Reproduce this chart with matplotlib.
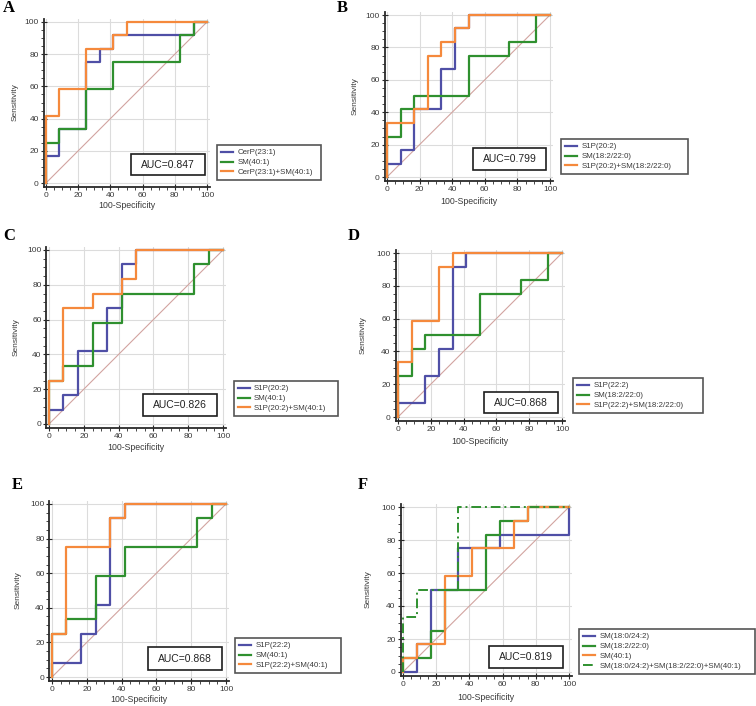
import matplotlib
matplotlib.use("Agg")
import matplotlib.pyplot as plt
from matplotlib.patches import Rectangle
from matplotlib.ticker import MultipleLocator

W, H = 756, 706

# ---- data: ROC step paths, 100-Specificity (x) vs Sensitivity (y), in % ----
cerp23_x = [0, 0, 8.3, 8.3, 25, 25, 33.3, 33.3, 41.7, 41.7, 91.7, 91.7, 100]
cerp23_y = [0, 16.7, 16.7, 33.3, 33.3, 75, 75, 83.3, 83.3, 91.7, 91.7, 100, 100]

sm40_x = [0, 0, 8.3, 8.3, 25, 25, 41.7, 41.7, 83.3, 83.3, 91.7, 91.7, 100]
sm40_y = [0, 25, 25, 33.3, 33.3, 58.3, 58.3, 75, 75, 91.7, 91.7, 100, 100]

sm18_22_x = [0, 0, 8.3, 8.3, 16.7, 16.7, 50, 50, 75, 75, 91.7, 91.7, 100]
sm18_22_y = [0, 25, 25, 41.7, 41.7, 50, 50, 75, 75, 83.3, 83.3, 100, 100]

s1p20_x = [0, 0, 8.3, 8.3, 16.7, 16.7, 33.3, 33.3, 41.7, 41.7, 50, 50, 100]
s1p20_y = [0, 8.3, 8.3, 16.7, 16.7, 41.7, 41.7, 66.7, 66.7, 91.7, 91.7, 100, 100]

s1p22_x = [0, 0, 16.7, 16.7, 25, 25, 33.3, 33.3, 41.7, 41.7, 100]
s1p22_y = [0, 8.3, 8.3, 25, 25, 41.7, 41.7, 91.7, 91.7, 100, 100]

comboA_x = [0, 0, 8.3, 8.3, 25, 25, 41.7, 41.7, 50, 50, 100]
comboA_y = [0, 41.7, 41.7, 58.3, 58.3, 83.3, 83.3, 91.7, 91.7, 100, 100]

comboB_x = [0, 0, 16.7, 16.7, 25, 25, 33.3, 33.3, 41.7, 41.7, 50, 50, 100]
comboB_y = [0, 33.3, 33.3, 41.7, 41.7, 75, 75, 83.3, 83.3, 91.7, 91.7, 100, 100]

comboC_x = [0, 0, 8.3, 8.3, 25, 25, 41.7, 41.7, 50, 50, 100]
comboC_y = [0, 25, 25, 66.7, 66.7, 75, 75, 83.3, 83.3, 100, 100]

comboD_x = [0, 0, 8.3, 8.3, 25, 25, 33.3, 33.3, 100]
comboD_y = [0, 33.3, 33.3, 58.3, 58.3, 91.7, 91.7, 100, 100]

comboE_x = [0, 0, 8.3, 8.3, 33.3, 33.3, 41.7, 41.7, 100]
comboE_y = [0, 25, 25, 75, 75, 91.7, 91.7, 100, 100]

# panel F
f_sm18_24_x = [0, 8.3, 8.3, 16.7, 16.7, 33.3, 33.3, 58.3, 58.3, 100, 100]
f_sm18_24_y = [0, 0, 16.7, 16.7, 50, 50, 75, 75, 83.3, 83.3, 100]
f_sm18_22_x = [0, 0, 16.7, 16.7, 25, 25, 50, 50, 58.3, 58.3, 75, 75, 100]
f_sm18_22_y = [0, 8.3, 8.3, 25, 25, 50, 50, 83.3, 83.3, 91.7, 91.7, 100, 100]
f_sm40_x = [0, 0, 8.3, 8.3, 25, 25, 41.7, 41.7, 66.7, 66.7, 75, 75, 100]
f_sm40_y = [0, 8.3, 8.3, 16.7, 16.7, 58.3, 58.3, 75, 75, 91.7, 91.7, 100, 100]
comboF_x = [0, 0, 8.3, 8.3, 33.3, 33.3, 100]
comboF_y = [0, 33.3, 33.3, 50, 50, 100, 100]

auc_values = ["0.847", "0.799", "0.826", "0.868", "0.868", "0.819"]
panel_letters = ["A", "B", "C", "D", "E", "F"]

BLUE = "#4f4fa6"
GREEN = "#2f902f"
ORANGE = "#f5893c"
DIAG = "#d2a4a0"
TXT = "#3a3a3a"

panels = [
    [(cerp23_x, cerp23_y, BLUE, "-", "CerP(23:1)"),
     (sm40_x, sm40_y, GREEN, "-", "SM(40:1)"),
     (comboA_x, comboA_y, ORANGE, "-", "CerP(23:1)+SM(40:1)")],
    [(s1p20_x, s1p20_y, BLUE, "-", "S1P(20:2)"),
     (sm18_22_x, sm18_22_y, GREEN, "-", "SM(18:2/22:0)"),
     (comboB_x, comboB_y, ORANGE, "-", "S1P(20:2)+SM(18:2/22:0)")],
    [(s1p20_x, s1p20_y, BLUE, "-", "S1P(20:2)"),
     (sm40_x, sm40_y, GREEN, "-", "SM(40:1)"),
     (comboC_x, comboC_y, ORANGE, "-", "S1P(20:2)+SM(40:1)")],
    [(s1p22_x, s1p22_y, BLUE, "-", "S1P(22:2)"),
     (sm18_22_x, sm18_22_y, GREEN, "-", "SM(18:2/22:0)"),
     (comboD_x, comboD_y, ORANGE, "-", "S1P(22:2)+SM(18:2/22:0)")],
    [(s1p22_x, s1p22_y, BLUE, "-", "S1P(22:2)"),
     (sm40_x, sm40_y, GREEN, "-", "SM(40:1)"),
     (comboE_x, comboE_y, ORANGE, "-", "S1P(22:2)+SM(40:1)")],
    [(f_sm18_24_x, f_sm18_24_y, BLUE, "-", "SM(18:0/24:2)"),
     (f_sm18_22_x, f_sm18_22_y, GREEN, "-", "SM(18:2/22:0)"),
     (f_sm40_x, f_sm40_y, ORANGE, "-", "SM(40:1)"),
     (comboF_x, comboF_y, GREEN, "-.", "SM(18:0/24:2)+SM(18:2/22:0)+SM(40:1)")],
]

# ---- layout in pixels ----
# axis: x of 0, x of 100, y of 100, y of 0
axes_px = [(46, 207, 22, 183), (387, 550, 15, 177),
           (49, 223, 250, 424), (398, 562, 253, 417),
           (52, 226, 504, 677), (403, 569, 507, 672)]
# legend box: left, top, right
legend_px = [(217, 146, 321), (561, 140, 688),
             (234, 382, 338), (573, 379, 703),
             (235, 639, 341), (579, 630, 755)]
# AUC box: left, top, right, bottom
auc_px = [(131, 154, 205, 175), (473, 148, 546, 170),
          (143, 394, 217, 416), (484, 392, 558, 413),
          (148, 647, 222, 670), (489, 646, 563, 668)]
letter_px = [(3, 8), (337, 8), (3, 236), (348, 236), (12, 485), (358, 485)]
ylabel_x = [15, 355, 16, 363, 18, 368]
xlabel_y = [205, 201, 447, 442, 700, 698]

XMIN, XMAX, YMIN, YMAX = -1.5, 102, -2.5, 102

plt.rcParams['font.family'] = ['Liberation Sans', 'DejaVu Sans']

fig = plt.figure(figsize=(W / 100, H / 100), dpi=100)


def fx(px):
    return px / W


def fy(py):
    return 1 - py / H


for i, curves in enumerate(panels):
    x0, x100, y100, y0 = axes_px[i]
    sx = (x100 - x0) / 100.0
    sy = (y0 - y100) / 100.0
    left = x0 + XMIN * sx
    right = x0 + XMAX * sx
    top = y0 - YMAX * sy
    bottom = y0 - YMIN * sy
    ax = fig.add_axes([fx(left), fy(bottom), (right - left) / W, (bottom - top) / H])
    ax.set_xlim(XMIN, XMAX)
    ax.set_ylim(YMIN, YMAX)

    ax.plot([0, 100], [0, 100], color=DIAG, lw=0.8, zorder=2)
    for xs, ys, col, ls, lab in curves:
        if ls == "-.":
            ax.plot(xs, ys, color=col, lw=1.4, dashes=(5, 2, 1, 2), label=lab, zorder=3)
        else:
            ax.plot(xs, ys, color=col, lw=1.6, label=lab, zorder=3)

    ax.xaxis.set_major_locator(MultipleLocator(20))
    ax.yaxis.set_major_locator(MultipleLocator(20))
    ax.xaxis.set_minor_locator(MultipleLocator(5))
    ax.yaxis.set_minor_locator(MultipleLocator(5))
    ax.grid(True, which="major", color="#dcdcdc", lw=0.8, zorder=0)
    ax.set_axisbelow(True)
    for s in ["top", "right"]:
        ax.spines[s].set_visible(False)
    for s in ["left", "bottom"]:
        ax.spines[s].set_color("#2a2a2a")
        ax.spines[s].set_linewidth(1.3)
    ax.tick_params(which="major", direction="inout", length=4, width=0.8,
                   color="#2a2a2a", labelsize=6, labelcolor=TXT, pad=1.5)
    ax.tick_params(which="minor", direction="out", length=2, width=0.6, color="#2a2a2a")

    # axis titles
    fig.text(fx(ylabel_x[i]), fy((y0 + y100) / 2), "Sensitivity", rotation=90,
             ha="center", va="center", fontsize=6, color=TXT)
    fig.text(fx((x0 + x100) / 2), fy(xlabel_y[i]), "100-Specificity",
             ha="center", va="center", fontsize=6.3, color=TXT)

    # legend
    lx0, ly0, lx1 = legend_px[i]
    leg = fig.legend(handles=ax.get_lines()[1:], loc="upper left",
                     bbox_to_anchor=(fx(lx0), fy(ly0), (lx1 - lx0) / W, 0.001),
                     mode="expand", borderaxespad=0, fontsize=5.7, frameon=True,
                     fancybox=False, edgecolor="#2a2a2a", handlelength=1.6,
                     handletextpad=0.5, labelspacing=0.3, borderpad=0.45)
    leg.get_frame().set_linewidth(1.2)
    for t in leg.get_texts():
        t.set_color(TXT)

    # AUC box
    ax0, ay0, ax1, ay1 = auc_px[i]
    fig.add_artist(Rectangle((fx(ax0), fy(ay1)), (ax1 - ax0) / W, (ay1 - ay0) / H,
                             transform=fig.transFigure, facecolor="white",
                             edgecolor="#1e1e1e", lw=1.2, zorder=4))
    fig.text(fx((ax0 + ax1) / 2), fy((ay0 + ay1) / 2), "AUC=" + auc_values[i],
             ha="center", va="center", fontsize=7.5, color="#222222", zorder=5)

    # panel letter
    lpx, lpy = letter_px[i]
    fig.text(fx(lpx), fy(lpy), panel_letters[i], ha="left", va="center",
             fontsize=12, fontweight="bold", family=["Liberation Serif", "DejaVu Serif"])

fig.savefig("out.png", dpi=100)
